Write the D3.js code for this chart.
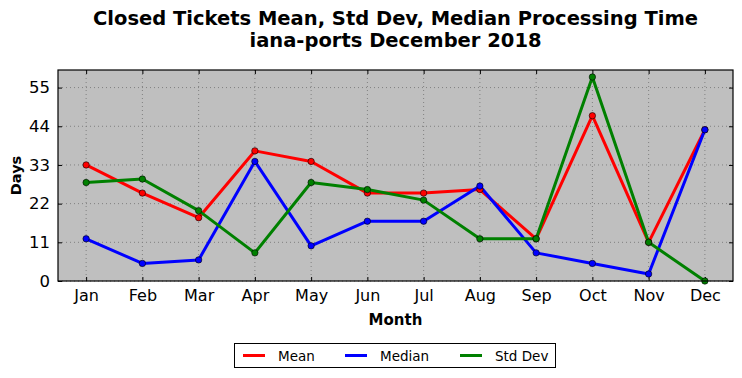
<!DOCTYPE html>
<html><head><meta charset="utf-8">
<script src="https://cdn.jsdelivr.net/npm/d3@7"></script>
<style>body{margin:0;background:#fff}text{font-family:"DejaVu Sans",sans-serif}</style>
</head><body><svg id="c" width="742" height="378"></svg>
<script>
const months = ["Jan","Feb","Mar","Apr","May","Jun","Jul","Aug","Sep","Oct","Nov","Dec"];
const meanVals = [33, 25, 18, 37, 34, 25, 25, 26, 12, 47, 11, 43];
const medianVals = [12, 5, 6, 34, 10, 17, 17, 27, 8, 5, 2, 43];
const stdVals = [28, 29, 20, 8, 28, 26, 23, 12, 12, 58, 11, 0];
const yTicks = [0, 11, 22, 33, 44, 55];
const seriesNames = ["Mean", "Median", "Std Dev"];
const seriesColors = ["#ff0000", "#0000ff", "#008000"];
const series = [meanVals, medianVals, stdVals];

const svg = d3.select("#c");
const L = 58, R = 733, T = 70, B = 281;
const x = d3.scaleLinear().domain([-0.5, 11.5]).range([L, R]);
const y = d3.scaleLinear().domain([0, 60]).range([B, T]);

svg.append("rect").attr("x", L).attr("y", T).attr("width", R - L).attr("height", B - T).attr("fill", "#bfbfbf");

// grid
const g = svg.append("g");
months.forEach((m, i) => {
  g.append("line").attr("x1", x(i)).attr("x2", x(i)).attr("y1", T).attr("y2", B)
    .attr("stroke", "#808080").attr("stroke-width", 1).attr("stroke-dasharray", "1,3");
});
yTicks.forEach(v => {
  g.append("line").attr("x1", L).attr("x2", R).attr("y1", y(v)).attr("y2", y(v))
    .attr("stroke", "#808080").attr("stroke-width", 1).attr("stroke-dasharray", "1,3");
});

// axes
const xAxis = d3.axisBottom(x).tickValues(d3.range(12)).tickFormat(i => months[i]).tickSizeInner(-4).tickSizeOuter(0).tickPadding(9);
const xg = svg.append("g").attr("transform", `translate(0,${B})`).call(xAxis);
xg.select(".domain").remove();
xg.selectAll("text").attr("font-size", 16).attr("fill", "#000");
const xAxisT = d3.axisTop(x).tickValues(d3.range(12)).tickFormat("").tickSizeInner(-4).tickSizeOuter(0);
const xgt = svg.append("g").attr("transform", `translate(0,${T})`).call(xAxisT);
xgt.select(".domain").remove();

const yAxis = d3.axisLeft(y).tickValues(yTicks).tickSizeInner(-4).tickSizeOuter(0).tickPadding(8);
const yg = svg.append("g").attr("transform", `translate(${L},0)`).call(yAxis);
yg.select(".domain").remove();
yg.selectAll("text").attr("font-size", 16.5).attr("fill", "#000");
const yAxisR = d3.axisRight(y).tickValues(yTicks).tickFormat("").tickSizeInner(-4).tickSizeOuter(0);
const ygr = svg.append("g").attr("transform", `translate(${R},0)`).call(yAxisR);
ygr.select(".domain").remove();

// lines
const line = d3.line().x((d, i) => x(i)).y(d => y(d));
series.forEach((s, k) => {
  svg.append("path").datum(s).attr("d", line).attr("fill", "none")
    .attr("stroke", seriesColors[k]).attr("stroke-width", 3).attr("stroke-linejoin", "round");
});
series.forEach((s, k) => {
  svg.selectAll(null).data(s).enter().append("circle")
    .attr("cx", (d, i) => x(i)).attr("cy", d => y(d)).attr("r", 3.2)
    .attr("fill", seriesColors[k]).attr("stroke", "#000").attr("stroke-width", 0.6);
});

svg.append("rect").attr("x", L).attr("y", T).attr("width", R - L).attr("height", B - T)
  .attr("fill", "none").attr("stroke", "#000").attr("stroke-width", 1.2);

// titles
const cx = (L + R) / 2;
svg.append("text").attr("x", cx).attr("y", 25).attr("text-anchor", "middle").attr("font-size", 19.5).attr("font-weight", "bold").text("Closed Tickets Mean, Std Dev, Median Processing Time");
svg.append("text").attr("x", cx).attr("y", 47).attr("text-anchor", "middle").attr("font-size", 19.5).attr("font-weight", "bold").text("iana-ports December 2018");
svg.append("text").attr("x", cx).attr("y", 325).attr("text-anchor", "middle").attr("font-size", 15).attr("font-weight", "bold").text("Month");
svg.append("text").attr("transform", `translate(21,${(T + B) / 2}) rotate(-90)`).attr("text-anchor", "middle").attr("font-size", 14.5).attr("font-weight", "bold").text("Days");

// legend
const lg = svg.append("g");
lg.append("rect").attr("x", 234.5).attr("y", 343.5).attr("width", 321).attr("height", 24).attr("fill", "#fff").attr("stroke", "#000").attr("stroke-width", 1);
const lx = [243, 345, 460];
seriesNames.forEach((n, k) => {
  lg.append("line").attr("x1", lx[k]).attr("x2", lx[k] + 22).attr("y1", 355.5).attr("y2", 355.5).attr("stroke", seriesColors[k]).attr("stroke-width", 3);
  lg.append("text").attr("x", lx[k] + 35).attr("y", 360.5).attr("font-size", 13.5).text(n);
});
</script></body></html>
